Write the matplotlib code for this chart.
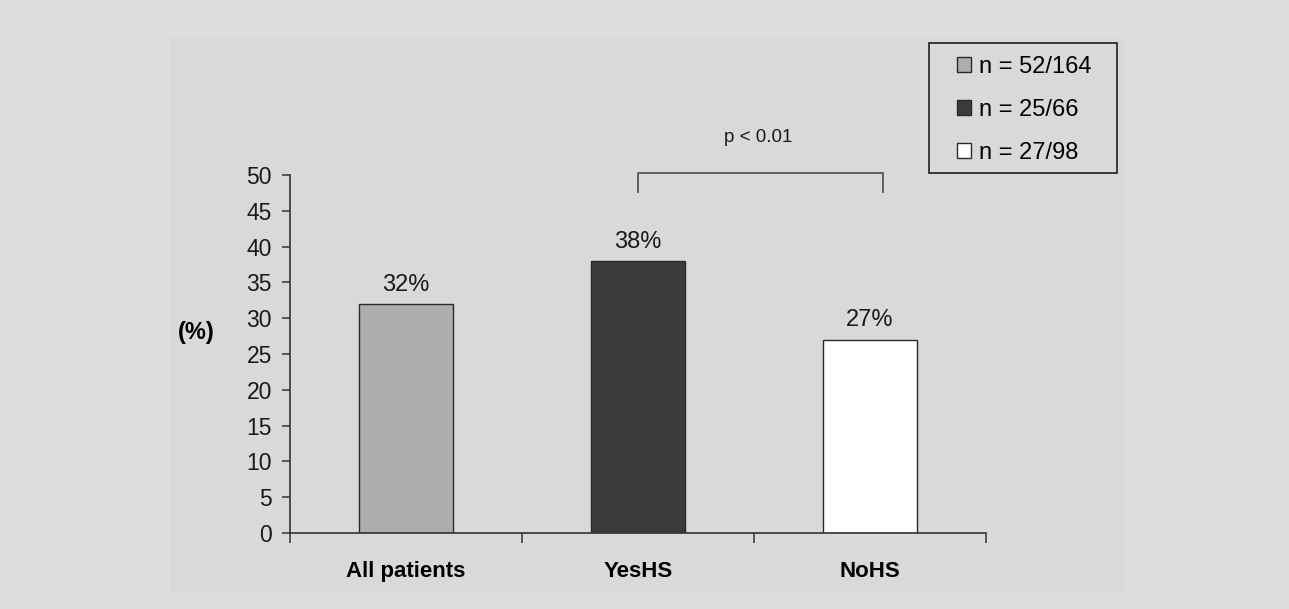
import matplotlib
matplotlib.use("Agg")
import matplotlib.pyplot as plt
from matplotlib.patches import Rectangle, Patch

plt.rcParams['font.family'] = ['Liberation Sans', 'DejaVu Sans']

# data
categories = ["All patients", "YesHS", "NoHS"]
percent = [32, 38, 27]
legend_labels = ["n = 52/164", "n = 25/66", "n = 27/98"]
bar_colors = ["#adadad", "#3b3b3b", "#ffffff"]
y_ticks = list(range(0, 55, 5))
p_text = "p < 0.01"

W, H = 1289, 609
fig = plt.figure(figsize=(W / 100, H / 100), dpi=100, facecolor="#dcdddf")

# inner grey panel, kept behind the axes
fig.patches.append(Rectangle((170 / W, 1 - 591 / H), (1124 - 170) / W, (591 - 38) / H,
                             transform=fig.transFigure, facecolor="#d9d9d9",
                             edgecolor="none", zorder=-10))

ax = fig.add_axes([290 / W, 1 - 533 / H, (986 - 290) / W, (533 - 175) / H])
ax.set_facecolor("none")
ax.set_zorder(1)

x = list(range(len(categories)))
bars = ax.bar(x, percent, width=0.405, color=bar_colors, edgecolor="#2a2a2a",
              linewidth=1.0, zorder=2)

for xi, v in zip(x, percent):
    ax.annotate(f"{v}%", (xi, v), xytext=(0, 6), textcoords="offset points",
                ha="center", va="bottom", fontsize=17, color="#1a1a1a")

ax.set_xlim(-0.5, len(categories) - 0.5)
ax.set_ylim(0, 50)
ax.set_yticks(y_ticks)
ax.tick_params(axis="y", labelsize=16.5, length=6, width=1.1, color="#333333",
               pad=7, labelcolor="#1a1a1a")

ax.set_xticks(x)
ax.set_xticklabels(categories, fontsize=16, fontweight="bold")
ax.tick_params(axis="x", which="major", length=0, pad=20)
ax.set_xticks([i - 0.5 for i in range(len(categories) + 1)], minor=True)
ax.tick_params(axis="x", which="minor", length=7, width=1.1, color="#333333",
               direction="out")

for s in ["top", "right"]:
    ax.spines[s].set_visible(False)
for s in ["left", "bottom"]:
    ax.spines[s].set_color("#333333")
    ax.spines[s].set_linewidth(1.2)

ax.set_ylabel("(%)", rotation=0, fontsize=17, fontweight="bold",
              ha="center", va="center")
ax.yaxis.set_label_coords(-0.135, 0.56)

# significance bracket between YesHS and NoHS
ax.plot([1, 1, 2.056, 2.056], [47.6, 50.3, 50.3, 47.6], color="#555555", lw=1.3,
        clip_on=False, zorder=3)
ax.text(1.52, 55.2, p_text, ha="center", va="center", fontsize=13.5,
        color="#1a1a1a", clip_on=False)

# legend box
fig.patches.append(Rectangle((929 / W, 1 - 173 / H), (1117 - 929) / W, (173 - 43) / H,
                             transform=fig.transFigure, facecolor="none",
                             edgecolor="#222222", linewidth=1.2, zorder=5))
handles = [Patch(facecolor=c, edgecolor="#2a2a2a", linewidth=1.0) for c in bar_colors]
fig.legend(handles, legend_labels, loc="center",
           bbox_to_anchor=(1024 / W, 1 - 110 / H), frameon=False, fontsize=17,
           handlelength=0.6, handleheight=0.6, handletextpad=0.35,
           labelspacing=0.9, borderpad=0)

fig.savefig("out.png", dpi=100, facecolor=fig.get_facecolor())
